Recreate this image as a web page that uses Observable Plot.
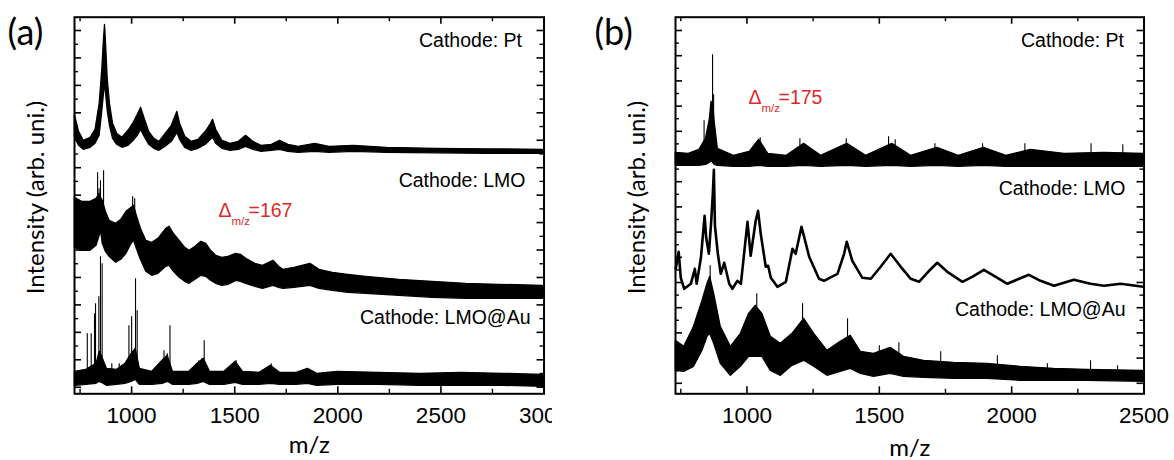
<!DOCTYPE html>
<html><head><meta charset="utf-8">
<script src="https://cdn.jsdelivr.net/npm/d3@7"></script>
<script src="https://cdn.jsdelivr.net/npm/@observablehq/plot@0.6"></script>
<style>
body{margin:0;background:#fff;}
#wrap{position:relative;width:1174px;height:460px;overflow:hidden;background:#fff;}
#wrap svg{position:absolute;top:0;}
</style></head><body><div id="wrap"></div>
<script>
// ===== Panel (a) data (m/z, intensity in arb. units) =====
const aXLabels = [1000, 1500, 2000, 2500, 3000];
const aXMinor = [750, 1250, 1750, 2250, 2750];
const aSeriesLabels = ["Cathode: Pt", "Cathode: LMO", "Cathode: LMO@Au"];
const aDelta = "=167";

const aPtMz = [725, 745, 768, 801, 825, 845, 858, 866, 871, 876, 884, 895, 910, 930, 955, 985, 1010, 1030, 1046, 1060, 1085, 1110, 1135, 1165, 1195, 1210, 1222, 1235, 1260, 1290, 1325, 1360, 1385, 1395, 1410, 1440, 1480, 1520, 1555, 1590, 1630, 1680, 1720, 1760, 1810, 1890, 1960, 2077, 2238, 2480, 2723, 2995];
const aPtHi = [279, 262, 253, 256, 264, 290, 325, 355, 369, 350, 315, 290, 270, 260, 256, 263, 271, 279, 286, 277, 262, 255, 252, 260, 268, 276, 282, 270, 257, 252, 254, 262, 270, 274, 264, 253, 250, 252, 258, 252, 248, 249, 253, 249, 247, 250, 247, 248, 246, 245, 244.5, 244];
const aPtLo = [256, 248, 244, 246, 250, 258, 283, 300, 310, 300, 283, 268, 255, 249, 246, 248, 253, 258, 264, 258, 249, 245, 243, 247, 252, 257, 261, 254, 246, 243, 245, 249, 254, 256, 250, 245, 243, 244, 247, 244, 242, 243, 244, 242, 241, 242, 241, 242, 241, 240.5, 240, 240];

const aLmoMz = [725, 760, 800, 830, 845, 852, 860, 875, 893, 925, 950, 975, 1000, 1012, 1025, 1045, 1071, 1100, 1130, 1168, 1184, 1205, 1233, 1260, 1281, 1310, 1338, 1362, 1385, 1410, 1440, 1470, 1507, 1530, 1556, 1600, 1637, 1688, 1715, 1736, 1790, 1867, 1911, 1976, 2050, 2137, 2299, 2460, 2622, 2783, 2995];
const aLmoHi = [196, 192, 192, 195, 200, 196, 193, 182, 173, 170, 174, 182, 186, 188, 178, 165, 153, 151, 155, 165, 167, 160, 153, 146, 143, 147, 152, 150, 143, 138, 136, 137, 140, 139, 135, 130, 128, 133, 127, 124, 126, 130, 124, 121, 119, 117, 114, 112, 110, 109, 108];
const aLmoLo = [146, 143, 143, 148, 158, 163, 150, 142, 137, 131, 134, 140, 150, 153, 145, 134, 122, 118, 120, 127, 128, 122, 116, 112, 110, 114, 118, 117, 113, 110, 108, 109, 113, 112, 110, 107, 105, 108, 106, 105, 106, 108, 105, 103, 101, 100, 98, 96, 95, 95, 95];
const aLmoSpikeMz = [835, 842, 849, 864, 1005, 1015];
const aLmoSpikeTop = [221, 205, 213, 223, 197, 195];

const aAuMz = [725, 780, 830, 845, 855, 880, 930, 970, 1000, 1020, 1040, 1100, 1150, 1175, 1200, 1280, 1320, 1350, 1380, 1450, 1505, 1540, 1620, 1675, 1720, 1800, 1855, 1900, 2000, 2200, 2400, 2600, 2800, 2995];
const aAuHi = [22, 24, 30, 42, 38, 25, 24, 30, 40, 45, 25, 22, 33, 38, 22, 22, 30, 35, 22, 22, 32, 22, 21, 28, 21, 21, 25, 20, 22, 21, 20, 21, 20, 19];
const aAuLo = [8, 9, 10, 12, 11, 8, 9, 10, 12, 14, 9, 9, 10, 12, 9, 9, 10, 12, 9, 9, 11, 9, 9, 10, 9, 9, 10, 8, 9, 9, 8, 8, 8, 7];
const aAuSpikeMz = [785, 804, 820, 825, 841, 849, 857, 904, 940, 987, 1000, 1019, 1027, 1157, 1173, 1186, 1326, 1340, 1352, 1507, 1677, 1855];
const aAuSpikeTop = [60, 60, 80, 90, 97, 137, 130, 30, 30, 68, 77, 115, 83, 43, 40, 68, 33, 35, 53, 33, 30, 25];

// ===== Panel (b) data =====
const bXLabels = [1000, 1500, 2000, 2500];
const bXMinor = [750, 1250, 1750, 2250];
const bSeriesLabels = ["Cathode: Pt", "Cathode: LMO", "Cathode: LMO@Au"];
const bDelta = "=175";

const bPtMz = [731, 780, 820, 845, 860, 866, 872, 878, 890, 950, 1010, 1046, 1080, 1150, 1216, 1280, 1379, 1450, 1549, 1620, 1719, 1800, 1895, 1980, 2072, 2200, 2350, 2500];
const bPtHi = [241, 240, 244, 255, 275, 292, 290, 272, 245, 238, 242, 254, 240, 238, 250, 238, 250, 238, 250, 238, 246, 238, 246, 238, 244, 240, 241, 240];
const bPtLo = [228, 228, 228, 229, 231, 233, 231, 229, 228, 227, 227, 228, 227, 227, 228, 227, 228, 227, 228, 227, 228, 227, 228, 227, 227, 227, 227, 227];
const bPtSpikeMz = [838, 870, 874, 1050, 1200, 1375, 1535, 1560, 1710, 1890, 2050, 2300, 2420];
const bPtSpikeTop = [273, 339, 299, 256, 255, 255, 257, 254, 250, 250, 250, 250, 249];

const bLmoMz = [731, 742, 750, 763, 788, 803, 810, 826, 840, 846, 856, 865, 871, 875, 879, 890, 901, 914, 933, 945, 964, 977, 1002, 1014, 1033, 1042, 1052, 1071, 1080, 1090, 1115, 1147, 1172, 1184, 1206, 1216, 1235, 1247, 1272, 1291, 1342, 1367, 1377, 1398, 1436, 1468, 1505, 1543, 1581, 1619, 1650, 1688, 1719, 1757, 1814, 1851, 1895, 1940, 1984, 2028, 2065, 2109, 2160, 2235, 2298, 2349, 2412, 2497];
const bLmoVal = [125, 142, 116, 105, 110, 125, 110, 136, 178, 156, 140, 173, 200, 224, 168, 140, 120, 131, 110, 105, 113, 110, 172, 138, 173, 183, 160, 127, 128, 116, 107, 112, 145, 140, 167, 157, 137, 130, 115, 113, 120, 140, 152, 133, 116, 115, 127, 140, 127, 115, 112, 123, 131, 122, 112, 117, 124, 117, 110, 115, 119, 113, 108, 114, 110, 108, 110, 107];

const bAuMz = [731, 763, 800, 832, 851, 861, 876, 901, 939, 977, 1008, 1033, 1058, 1090, 1128, 1172, 1216, 1254, 1304, 1354, 1392, 1430, 1480, 1543, 1593, 1669, 1782, 1908, 2034, 2160, 2286, 2497];
const bAuHi = [53, 47, 67, 93, 110, 117, 100, 67, 47, 60, 80, 88, 80, 57, 50, 60, 75, 60, 43, 52, 58, 42, 40, 46, 37, 33, 31, 30, 27, 25, 24, 23];
const bAuLo = [23, 22, 27, 43, 57, 60, 50, 30, 18, 27, 37, 37, 37, 23, 18, 28, 33, 27, 18, 22, 25, 20, 17, 20, 17, 16, 15, 15, 13, 13, 13, 12];
const bAuSpikeMz = [861, 1037, 1210, 1380, 1500, 1574, 1732, 1946, 2135, 2298, 2400];
const bAuSpikeTop = [128, 100, 90, 75, 48, 51, 42, 38, 30, 33, 28];

// ===== helpers =====
const ARIAL = "'Liberation Sans', Arial, sans-serif";
const CAL = "Lato, 'Open Sans', sans-serif";
const RED = "#e02828";
const TOP = 16.7, BOTTOM = 66.7, H = 460, innerH = H - TOP - BOTTOM;

const rows = (mz, lo, hi) => mz.map((m, i) => ({mz: m, lo: lo[i], hi: hi[i]}));
const pts = (mz, v) => mz.map((m, i) => ({mz: m, v: v[i]}));
// spikes rise from the middle of their band
function spikes(mz, top, bandMz, bandLo, bandHi) {
  const mid = d3.scaleLinear().domain(bandMz).range(bandMz.map((m, i) => (bandLo[i] + bandHi[i]) / 2)).clamp(true);
  return mz.map((m, i) => ({mz: m, top: top[i], base: mid(m)}));
}

function panel(c) {
  const innerW = c.width - c.marginLeft - c.marginRight;
  const yMajor = c.yTicks.filter((d, i) => i % 2 === 0);
  const yMinor = c.yTicks.filter((d, i) => i % 2 === 1);
  const marks = [];
  for (const s of c.spikes) marks.push(Plot.ruleX(s, {x: "mz", y1: "base", y2: "top", stroke: "black", strokeWidth: 1.1}));
  for (const b of c.bands) marks.push(Plot.areaY(b, {x: "mz", y1: "lo", y2: "hi", fill: "black", stroke: "black", strokeWidth: 1.3}));
  for (const l of c.lines) marks.push(Plot.line(l, {x: "mz", y: "v", stroke: "black", strokeWidth: 2.6}));
  const tk = (data, len, w) => [
    Plot.ruleX(data, {x: d => d, insetTop: innerH - len, stroke: "black", strokeWidth: w}),
    Plot.ruleX(data, {x: d => d, insetBottom: innerH - len, stroke: "black", strokeWidth: w})
  ];
  const tky = (data, len, w) => [
    Plot.ruleY(data, {y: d => d, insetRight: innerW - len, stroke: "black", strokeWidth: w}),
    Plot.ruleY(data, {y: d => d, insetLeft: innerW - len, stroke: "black", strokeWidth: w})
  ];
  marks.push(...tk(c.xMajor, 7, 1.6), ...tk(c.xMinor, 4.5, 1.4), ...tky(yMajor, 7, 1.6), ...tky(yMinor, 4, 1.4));
  marks.push(Plot.frame({stroke: "black", strokeWidth: 2}));
  // tick labels
  marks.push(Plot.text(c.xMajor, {x: d => d, text: d => String(d), frameAnchor: "bottom", lineAnchor: "top", dy: 13, fontSize: 22.5, fontFamily: ARIAL}));
  // axis titles
  marks.push(Plot.text(["m/z"], {frameAnchor: "bottom", textAnchor: "middle", lineAnchor: "bottom", dy: c.mzDy, fontSize: 24, fontFamily: CAL}));
  marks.push(Plot.text(["Intensity (arb. uni.)"], {frameAnchor: "left", rotate: -90, textAnchor: "middle", lineAnchor: "middle", dx: -38, dy: -8, fontSize: 24, fontFamily: CAL}));
  marks.push(Plot.text([c.tag], {frameAnchor: "top-left", textAnchor: "start", lineAnchor: "middle", dx: c.tagDx, dy: 16, fontSize: 36, fontFamily: CAL}));
  // series labels
  c.labels.forEach((t, i) => marks.push(Plot.text([t], {frameAnchor: "top-right", textAnchor: "end", lineAnchor: "bottom", dx: c.labelPos[i][0], dy: c.labelPos[i][1], fontSize: 19.5, fontFamily: ARIAL})));
  // Δ m/z annotation
  const [ddx, ddy] = c.deltaPos;
  marks.push(Plot.text(["Δ"], {frameAnchor: "top-left", textAnchor: "start", lineAnchor: "bottom", dx: ddx, dy: ddy, fontSize: 19.5, fontFamily: ARIAL, fill: RED}));
  marks.push(Plot.text(["m/z"], {frameAnchor: "top-left", textAnchor: "start", lineAnchor: "bottom", dx: ddx + 13, dy: ddy + 8, fontSize: 11.5, fontFamily: ARIAL, fill: RED}));
  marks.push(Plot.text([c.delta], {frameAnchor: "top-left", textAnchor: "start", lineAnchor: "bottom", dx: ddx + 30, dy: ddy, fontSize: 19.5, fontFamily: ARIAL, fill: RED}));

  const svg = Plot.plot({
    width: c.width, height: H,
    marginLeft: c.marginLeft, marginRight: c.marginRight, marginTop: TOP, marginBottom: BOTTOM,
    x: {domain: c.xDomain, axis: null},
    y: {domain: [0, innerH], axis: null},
    style: {background: "white", color: "black", fontFamily: ARIAL, overflow: "hidden"},
    marks
  });
  svg.style.left = c.left + "px";
  return svg;
}

const wrap = document.getElementById("wrap");
wrap.appendChild(panel({
  left: 0, width: 552, marginLeft: 74, marginRight: 8.5,
  xDomain: [723, 3000], xMajor: aXLabels, xMinor: aXMinor,
  yTicks: d3.range(27).map(k => 363.3 - 13.72 * k),
  bands: [rows(aPtMz, aPtLo, aPtHi), rows(aLmoMz, aLmoLo, aLmoHi), rows(aAuMz, aAuLo, aAuHi)],
  lines: [],
  spikes: [spikes(aLmoSpikeMz, aLmoSpikeTop, aLmoMz, aLmoLo, aLmoHi), spikes(aAuSpikeMz, aAuSpikeTop, aAuMz, aAuLo, aAuHi)],
  labels: aSeriesLabels, labelPos: [[-22, 29.6], [-18.5, 170], [-13.5, 306.6]],
  delta: aDelta, deltaPos: [144, 200],
  tag: "(a)", tagDx: -67, mzDy: 58.7
}));
wrap.appendChild(panel({
  left: 580, width: 594, marginLeft: 95, marginRight: 30.5,
  xDomain: [730, 2500], xMajor: bXLabels, xMinor: bXMinor,
  yTicks: d3.range(29).map(k => 363.3 - 12.6 * k),
  bands: [rows(bPtMz, bPtLo, bPtHi), rows(bAuMz, bAuLo, bAuHi)],
  lines: [pts(bLmoMz, bLmoVal)],
  spikes: [spikes(bPtSpikeMz, bPtSpikeTop, bPtMz, bPtLo, bPtHi), spikes(bAuSpikeMz, bAuSpikeTop, bAuMz, bAuLo, bAuHi)],
  labels: bSeriesLabels, labelPos: [[-20, 30], [-18.5, 177.3], [-18.5, 298.3]],
  delta: bDelta, deltaPos: [73, 86.6],
  tag: "(b)", tagDx: -81, mzDy: 62
}));
</script></body></html>
